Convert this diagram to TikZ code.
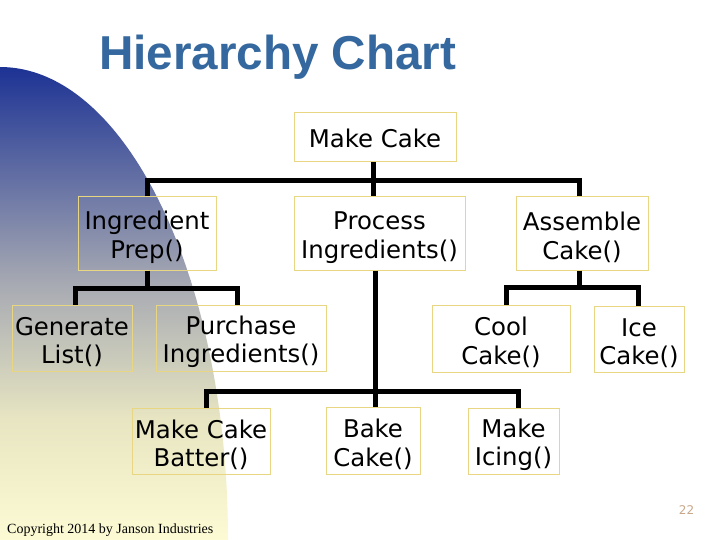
\documentclass[tikz,border=0pt]{standalone}
\usepackage{fontspec}
\setmainfont{DejaVu Sans}
\newfontfamily\titlefont{Liberation Sans}
\newfontfamily\copyfont{Liberation Serif}
\definecolor{titleblue}{RGB}{52,104,158}
\definecolor{boxline}{RGB}{232,214,130}
\definecolor{gtop}{RGB}{28,50,148}
\definecolor{gmid}{RGB}{165,168,178}
\definecolor{glow}{RGB}{232,230,194}
\definecolor{gbot}{RGB}{253,251,212}
\definecolor{pagenum}{RGB}{200,168,138}
\newcommand{\tstrut}{\rule{0pt}{26.5pt}}
\newcommand{\sstrut}{\rule{0pt}{21pt}}
\tikzset{
  box/.style={draw=boxline, line width=1pt, inner sep=0pt, align=center,
    font=\fontsize{24.4}{28.5}\selectfont},
  conn/.style={draw=black, line width=5pt, line join=miter},
}
\begin{document}
\begin{tikzpicture}[x=1pt,y=-1pt]
\useasboundingbox (0,0) rectangle (720,540);
\fill[white] (0,0) rectangle (720,540);
% background gradient quarter ellipse
\begin{scope}
  \clip (0,0) rectangle (720,540);
  \clip (0,540) ellipse [x radius=228pt, y radius=473pt];
  \shade[top color=gtop, bottom color=gmid] (0,66) rectangle (230,281);
  \shade[top color=gmid, bottom color=glow] (0,280) rectangle (230,421);
  \shade[top color=glow, bottom color=gbot] (0,420) rectangle (230,541);
\end{scope}
% title
\node[anchor=base west, inner sep=0pt, text=titleblue,
  font=\titlefont\bfseries\fontsize{47.6}{50}\selectfont] (title) at (99,70) {Hierarchy Chart};
% boxes
\node[box, minimum width=162pt, minimum height=49pt] (mc) at (375,137.5) {\sstrut Make Cake};
\node[box, minimum width=138pt, minimum height=73pt] (ip) at (147,233.5) {\tstrut Ingredient\\Prep()};
\node[box, minimum width=171pt, minimum height=73pt] (pi) at (379.5,233.5) {\tstrut Process\\Ingredients()};
\node[box, minimum width=132pt, minimum height=73pt] (ac) at (582,233.5) {\tstrut Assemble\\Cake()};
\node[box, minimum width=120pt, minimum height=66pt] (gl) at (72,338) {\tstrut Generate\\List()};
\node[box, minimum width=170pt, minimum height=66pt] (pu) at (241,338) {\tstrut Purchase\\Ingredients()};
\node[box, minimum width=138pt, minimum height=67pt] (cc) at (501,338.5) {\tstrut Cool\\Cake()};
\node[box, minimum width=90pt, minimum height=66pt] (ic) at (639,339) {\tstrut Ice\\Cake()};
\node[box, minimum width=138pt, minimum height=66pt] (mb) at (201,441) {\tstrut Make Cake\\Batter()};
\node[box, minimum width=94pt, minimum height=67pt] (bc) at (373,440.5) {\tstrut Bake\\Cake()};
\node[box, minimum width=91pt, minimum height=66pt] (mi) at (513.5,441) {\tstrut Make\\Icing()};
% junctions
\coordinate (j1) at (373,181);
\coordinate (j2) at (147,288);
\coordinate (j3) at (375,391);
\coordinate (j4) at (579,287);
% connectors
\draw[conn] (mc.south -| j1) -- (pi.north -| j1);
\draw[conn] (ip.north) |- (j1) -| ([xshift=-3pt]ac.north);
\draw[conn] (ip.south) -- (j2);
\draw[conn] ([xshift=3pt]gl.north) |- (j2) -| ([xshift=-4pt]pu.north);
\draw[conn] (pi.south -| j3) -- (bc.north -| j3);
\draw[conn] ([xshift=5pt]mb.north) |- (j3) -| ([xshift=4.5pt]mi.north);
\draw[conn] (ac.south -| j4) -- (j4);
\draw[conn] ([xshift=5pt]cc.north) |- (j4) -| ([xshift=-1pt]ic.north);
% footer
\node[anchor=base west, inner sep=0pt, font=\copyfont\fontsize{14}{16}\selectfont] (copy) at (7,533) {Copyright 2014 by Janson Industries};
\node[text=pagenum, inner sep=0pt, font=\fontsize{12}{14}\selectfont] (pg) at (686.5,510.5) {22};
\end{tikzpicture}
\end{document}
